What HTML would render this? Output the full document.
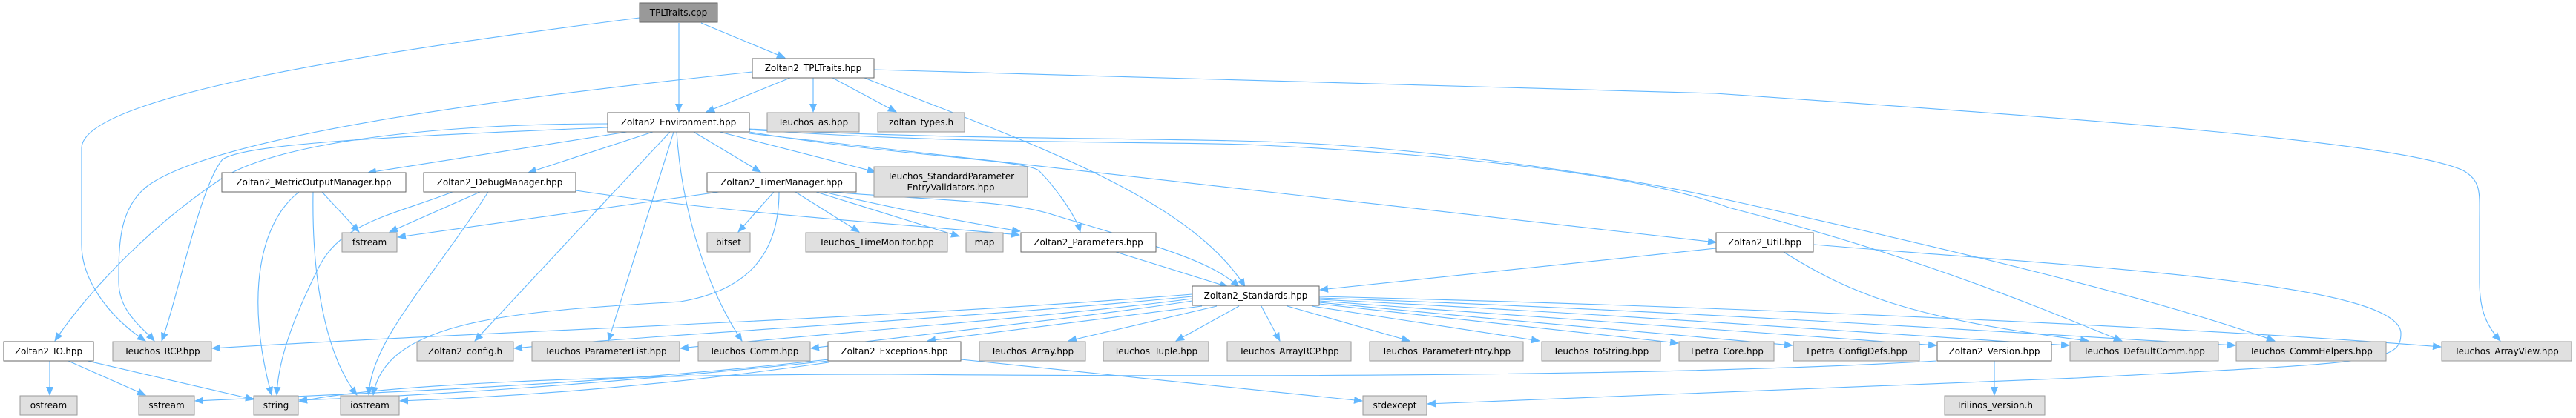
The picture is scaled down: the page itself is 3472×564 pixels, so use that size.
<!DOCTYPE html>
<html><head><meta charset="utf-8"><style>
html,body{margin:0;padding:0;background:#fff;}
svg{display:block;}
text{font-family:"DejaVu Sans","Liberation Sans",sans-serif;font-size:12px;fill:#000;}
.e{fill:none;stroke:#63b8ff;stroke-width:1.1;}
.w{fill:#fff;stroke:#666;stroke-width:1;}
.g{fill:#e0e0e0;stroke:#999;stroke-width:1;}
.d{fill:#999;stroke:#666;stroke-width:1;}
</style></head><body>
<svg width="3472" height="564" viewBox="0 0 3472 564" xmlns="http://www.w3.org/2000/svg">
<defs><marker id="a" markerWidth="12" markerHeight="10" refX="11" refY="5" orient="auto" markerUnits="userSpaceOnUse"><path d="M0,0 L12,5 L0,10 z" fill="#63b8ff"/></marker></defs>
<g class="e" marker-end="url(#a)">
<path d="M862,24 C500,70 110,130 110,200 L110,330 C110,380 150,430 196,460"/>
<path d="M915,31 L915,151"/>
<path d="M945,31 L1058,78"/>
<path d="M1014,97 C700,130 300,180 200,250 C160,280 160,330 160,380 C160,420 190,440 208,460"/>
<path d="M1065,105 L952,151"/>
<path d="M1096,105 L1096,151"/>
<path d="M1122,105 L1208,151"/>
<path d="M1165,105 C1350,180 1600,260 1678,387"/>
<path d="M1178,94 L2312,126 C2800,160 3230,190 3320,230 C3345,245 3342,260 3342,300 L3342,380 C3342,420 3352,440 3370,460"/>
<path d="M819,167 C600,167 380,190 300,240 C180,320 100,420 74,460"/>
<path d="M819,172 C500,185 330,195 300,215 C270,250 240,400 218,460"/>
<path d="M845,178 L496,233"/>
<path d="M880,178 L712,233"/>
<path d="M935,178 L1025,232"/>
<path d="M903,178 L640,460"/>
<path d="M908,178 L820,460"/>
<path d="M912,178 C920,300 960,400 1000,460"/>
<path d="M970,178 L1180,232"/>
<path d="M1010,178 C1200,210 1380,215 1400,230 C1420,250 1450,290 1456,313"/>
<path d="M1010,180 L2313,327"/>
<path d="M1010,175 C1300,195 1500,190 1680,195 C1900,205 2200,230 2330,280 C2600,350 2760,420 2860,460"/>
<path d="M1010,174 C1300,190 1600,185 1752,193 C1900,200 2150,230 2330,270 C2600,330 2900,400 3066,460"/>
<path d="M434,259 L484,313"/>
<path d="M403,259 C350,300 330,400 366,533"/>
<path d="M422,259 C420,380 440,480 481,533"/>
<path d="M647,259 L525,313"/>
<path d="M610,259 C530,290 460,300 430,360 C400,420 375,480 373,533"/>
<path d="M658,259 C580,380 500,460 497,533"/>
<path d="M776,257 C1000,290 1250,305 1374,317"/>
<path d="M969,259 L536,320"/>
<path d="M1043,259 L995,313"/>
<path d="M1072,259 L1158,313"/>
<path d="M1100,259 L1293,319"/>
<path d="M1110,259 C1200,280 1300,300 1375,312"/>
<path d="M1120,259 C1250,270 1360,270 1420,290 C1550,330 1630,350 1670,387"/>
<path d="M1050,259 C1050,330 1020,390 917,407 C700,420 520,430 503,533"/>
<path d="M1504,340 L1655,387"/>
<path d="M2313,335 L1779,391"/>
<path d="M2404,340 C2500,400 2580,430 2815,460"/>
<path d="M2445,330 C2800,360 3236,380 3236,450 C3236,490 3200,489 2800,510 L1924,545"/>
<path d="M67,487 L67,533"/>
<path d="M92,487 L196,533"/>
<path d="M118,487 L342,539"/>
<path d="M1607,397 C1200,430 700,445 286,470"/>
<path d="M1607,400 C1300,430 900,450 693,470"/>
<path d="M1607,403 C1400,430 1100,450 917,470"/>
<path d="M1607,406 C1450,430 1250,450 1093,470"/>
<path d="M1620,413 L1250,460"/>
<path d="M1640,413 L1440,460"/>
<path d="M1670,413 L1585,460"/>
<path d="M1700,413 L1725,460"/>
<path d="M1735,413 L1900,460"/>
<path d="M1768,413 L2075,460"/>
<path d="M1778,410 L2262,463"/>
<path d="M1778,408 C2000,430 2300,455 2416,466"/>
<path d="M1778,406 C2100,430 2450,455 2610,466"/>
<path d="M1778,404 C2200,425 2600,455 2789,466"/>
<path d="M1778,402 C2300,420 2800,455 3013,466"/>
<path d="M1778,400 C2400,415 3000,445 3290,468"/>
<path d="M1117,485 C800,520 500,530 263,541"/>
<path d="M1117,487 C800,520 550,535 403,540"/>
<path d="M1117,489 C900,520 700,535 539,541"/>
<path d="M1295,485 L1836,541"/>
<path d="M2610,487 C2300,505 1800,510 1200,505 C800,505 500,520 403,542"/>
<path d="M2688,487 L2688,533"/>
</g>
<g>
<rect class="d" x="862" y="4" width="105" height="26"/><text x="914.5" y="21" text-anchor="middle">TPLTraits.cpp</text>
<rect class="w" x="1014" y="79" width="164" height="26"/><text x="1096" y="96" text-anchor="middle">Zoltan2_TPLTraits.hpp</text>
<rect class="w" x="819" y="152" width="191" height="26"/><text x="914.5" y="169" text-anchor="middle">Zoltan2_Environment.hpp</text>
<rect class="g" x="1034" y="152" width="124" height="26"/><text x="1096" y="169" text-anchor="middle">Teuchos_as.hpp</text>
<rect class="g" x="1183" y="152" width="117" height="26"/><text x="1241.5" y="169" text-anchor="middle">zoltan_types.h</text>
<rect class="w" x="299" y="233" width="248" height="26"/><text x="423" y="250" text-anchor="middle">Zoltan2_MetricOutputManager.hpp</text>
<rect class="w" x="571" y="233" width="205" height="26"/><text x="673.5" y="250" text-anchor="middle">Zoltan2_DebugManager.hpp</text>
<rect class="w" x="953" y="233" width="201" height="26"/><text x="1053.5" y="250" text-anchor="middle">Zoltan2_TimerManager.hpp</text>
<rect class="g" x="1178" y="225" width="207" height="41"/><text x="1281.5" y="242" text-anchor="middle">Teuchos_StandardParameter</text><text x="1281.5" y="257" text-anchor="middle">EntryValidators.hpp</text>
<rect class="g" x="461" y="314" width="74" height="26"/><text x="498" y="331" text-anchor="middle">fstream</text>
<rect class="g" x="953" y="314" width="58" height="26"/><text x="982" y="331" text-anchor="middle">bitset</text>
<rect class="g" x="1086" y="314" width="191" height="26"/><text x="1181.5" y="331" text-anchor="middle">Teuchos_TimeMonitor.hpp</text>
<rect class="g" x="1302" y="314" width="50" height="26"/><text x="1327" y="331" text-anchor="middle">map</text>
<rect class="w" x="1376" y="314" width="182" height="26"/><text x="1467" y="331" text-anchor="middle">Zoltan2_Parameters.hpp</text>
<rect class="w" x="2313" y="314" width="131" height="26"/><text x="2378.5" y="331" text-anchor="middle">Zoltan2_Util.hpp</text>
<rect class="w" x="1607" y="386" width="171" height="26"/><text x="1692.5" y="403" text-anchor="middle">Zoltan2_Standards.hpp</text>
<rect class="w" x="5" y="461" width="121" height="26"/><text x="65.5" y="478" text-anchor="middle">Zoltan2_IO.hpp</text>
<rect class="g" x="152" y="461" width="133" height="26"/><text x="218.5" y="478" text-anchor="middle">Teuchos_RCP.hpp</text>
<rect class="g" x="562" y="461" width="130" height="26"/><text x="627" y="478" text-anchor="middle">Zoltan2_config.h</text>
<rect class="g" x="717" y="461" width="199" height="26"/><text x="816.5" y="478" text-anchor="middle">Teuchos_ParameterList.hpp</text>
<rect class="g" x="941" y="461" width="151" height="26"/><text x="1016.5" y="478" text-anchor="middle">Teuchos_Comm.hpp</text>
<rect class="w" x="1116" y="461" width="179" height="26"/><text x="1205.5" y="478" text-anchor="middle">Zoltan2_Exceptions.hpp</text>
<rect class="g" x="1320" y="461" width="143" height="26"/><text x="1391.5" y="478" text-anchor="middle">Teuchos_Array.hpp</text>
<rect class="g" x="1487" y="461" width="142" height="26"/><text x="1558" y="478" text-anchor="middle">Teuchos_Tuple.hpp</text>
<rect class="g" x="1654" y="461" width="167" height="26"/><text x="1737.5" y="478" text-anchor="middle">Teuchos_ArrayRCP.hpp</text>
<rect class="g" x="1846" y="461" width="207" height="26"/><text x="1949.5" y="478" text-anchor="middle">Teuchos_ParameterEntry.hpp</text>
<rect class="g" x="2078" y="461" width="160" height="26"/><text x="2158" y="478" text-anchor="middle">Teuchos_toString.hpp</text>
<rect class="g" x="2263" y="461" width="128" height="26"/><text x="2327" y="478" text-anchor="middle">Tpetra_Core.hpp</text>
<rect class="g" x="2417" y="461" width="170" height="26"/><text x="2502" y="478" text-anchor="middle">Tpetra_ConfigDefs.hpp</text>
<rect class="w" x="2611" y="461" width="154" height="26"/><text x="2688" y="478" text-anchor="middle">Zoltan2_Version.hpp</text>
<rect class="g" x="2790" y="461" width="200" height="26"/><text x="2890" y="478" text-anchor="middle">Teuchos_DefaultComm.hpp</text>
<rect class="g" x="3014" y="461" width="202" height="26"/><text x="3115" y="478" text-anchor="middle">Teuchos_CommHelpers.hpp</text>
<rect class="g" x="3291" y="461" width="175" height="26"/><text x="3378.5" y="478" text-anchor="middle">Teuchos_ArrayView.hpp</text>
<rect class="g" x="27" y="534" width="77" height="26"/><text x="65.5" y="551" text-anchor="middle">ostream</text>
<rect class="g" x="187" y="534" width="75" height="26"/><text x="224.5" y="551" text-anchor="middle">sstream</text>
<rect class="g" x="342" y="534" width="60" height="26"/><text x="372" y="551" text-anchor="middle">string</text>
<rect class="g" x="459" y="534" width="79" height="26"/><text x="498.5" y="551" text-anchor="middle">iostream</text>
<rect class="g" x="1837" y="534" width="86" height="26"/><text x="1880" y="551" text-anchor="middle">stdexcept</text>
<rect class="g" x="2621" y="534" width="135" height="26"/><text x="2688.5" y="551" text-anchor="middle">Trilinos_version.h</text>
</g>
</svg>
</body></html>
